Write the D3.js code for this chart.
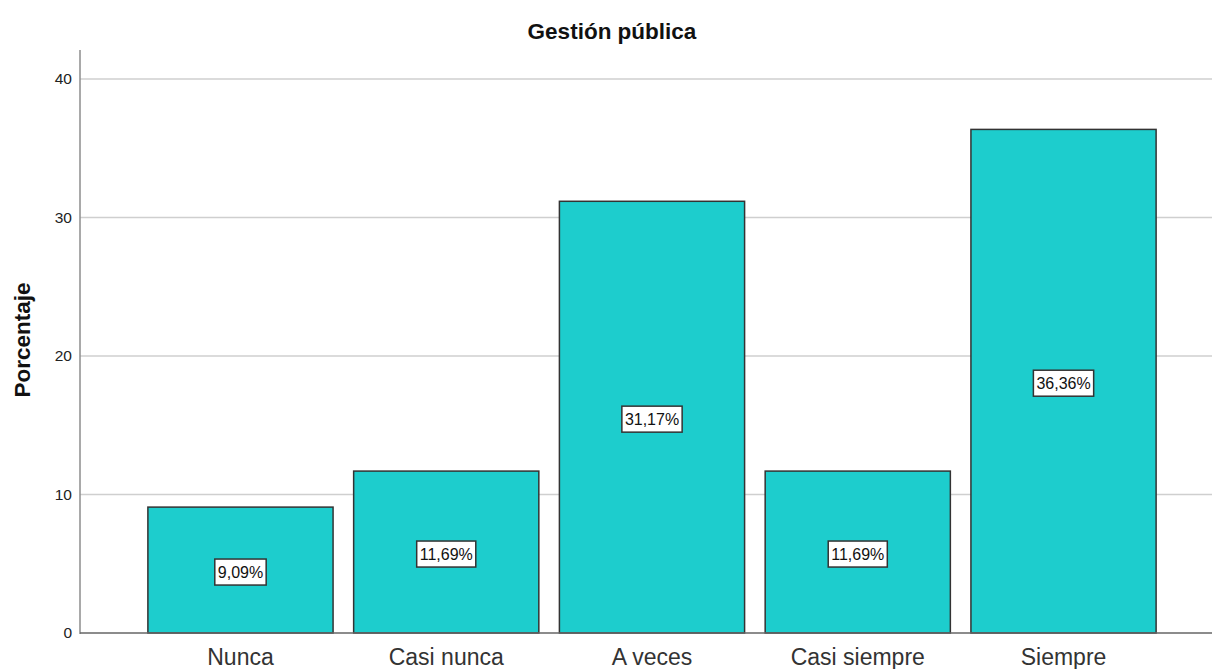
<!DOCTYPE html>
<html>
<head>
<meta charset="utf-8">
<script src="https://cdn.jsdelivr.net/npm/d3@7/dist/d3.min.js"></script>
<style>
  html, body { margin: 0; padding: 0; background: #fff; }
  svg { display: block; font-family: "Liberation Sans", Arial, sans-serif; }
</style>
</head>
<body>
<svg id="chart" width="1212" height="669"></svg>
<script>
// Distribución porcentual de respuestas – Gestión pública
const categories = ["Nunca", "Casi nunca", "A veces", "Casi siempre", "Siempre"];
const percentages = [9.09, 11.69, 31.17, 11.69, 36.36];
const yTicks = [0, 10, 20, 30, 40];
const chartTitle = "Gestión pública";
const yAxisTitle = "Porcentaje";

const svg = d3.select("#chart");
const plot = { left: 80, right: 1212, top: 50, bottom: 633 };

const y = d3.scaleLinear().domain([0, 40]).range([plot.bottom, 79]);
const x = d3.scaleBand()
  .domain(categories)
  .range([137.6, 1166.4])
  .paddingInner(0.1)
  .paddingOuter(0.05);

// grid lines
svg.append("g")
  .selectAll("line")
  .data(yTicks.filter(d => d > 0))
  .join("line")
  .attr("x1", plot.left).attr("x2", plot.right)
  .attr("y1", d => y(d)).attr("y2", d => y(d))
  .attr("stroke", "#cfcfcf").attr("stroke-width", 1.5);

// y axis
const yAxis = svg.append("g")
  .attr("transform", `translate(${plot.left},0)`)
  .call(d3.axisLeft(y).tickValues(yTicks).tickSize(0).tickPadding(8));
yAxis.select(".domain").remove();
yAxis.selectAll("text")
  .attr("font-size", 15.5).attr("fill", "#222")
  .attr("font-family", "'Liberation Sans', Arial, sans-serif");
svg.append("line")
  .attr("x1", plot.left).attr("x2", plot.left)
  .attr("y1", plot.top).attr("y2", plot.bottom + 1)
  .attr("stroke", "#8c8c8c").attr("stroke-width", 1.5);

// bars
svg.append("g")
  .selectAll("rect")
  .data(categories.map((c, i) => ({ c, v: percentages[i] })))
  .join("rect")
  .attr("x", d => x(d.c))
  .attr("width", x.bandwidth())
  .attr("y", d => y(d.v))
  .attr("height", d => y(0) - y(d.v))
  .attr("fill", "#1dcdcd")
  .attr("stroke", "#333")
  .attr("stroke-width", 1.5);

// x axis baseline
svg.append("line")
  .attr("x1", plot.left).attr("x2", plot.right)
  .attr("y1", plot.bottom).attr("y2", plot.bottom)
  .attr("stroke", "#666").attr("stroke-width", 1.5);

// x axis labels
const xAxis = svg.append("g")
  .attr("transform", `translate(0,${plot.bottom})`)
  .call(d3.axisBottom(x).tickSize(0).tickPadding(0));
xAxis.select(".domain").remove();
xAxis.selectAll("text")
  .attr("dy", null)
  .attr("y", 32)
  .attr("font-size", 23).attr("fill", "#333")
  .attr("font-family", "'Liberation Sans', Arial, sans-serif");

// value labels in boxes
const fmt = v => v.toFixed(2).replace(".", ",") + "%";
const labels = svg.append("g")
  .selectAll("g")
  .data(categories.map((c, i) => ({ c, v: percentages[i] })))
  .join("g")
  .attr("transform", d => `translate(${x(d.c) + x.bandwidth() / 2},${(y(d.v) + y(0)) / 2 + 2})`);
labels.append("text")
  .attr("text-anchor", "middle")
  .attr("dy", "0.36em")
  .attr("font-size", 16)
  .attr("fill", "#111")
  .text(d => fmt(d.v));
labels.each(function () {
  const g = d3.select(this);
  const bb = g.select("text").node().getBBox();
  g.insert("rect", "text")
    .attr("x", bb.x - 3).attr("y", -13)
    .attr("width", bb.width + 6).attr("height", 26)
    .attr("fill", "#fff").attr("stroke", "#333").attr("stroke-width", 1.5);
});

// titles
svg.append("text")
  .attr("x", 612).attr("y", 39)
  .attr("text-anchor", "middle")
  .attr("font-size", 22.5).attr("font-weight", "bold").attr("fill", "#111")
  .text(chartTitle);
svg.append("text")
  .attr("transform", `translate(30,340) rotate(-90)`)
  .attr("text-anchor", "middle")
  .attr("font-size", 22.5).attr("font-weight", "bold").attr("fill", "#111")
  .text(yAxisTitle);
</script>
</body>
</html>
